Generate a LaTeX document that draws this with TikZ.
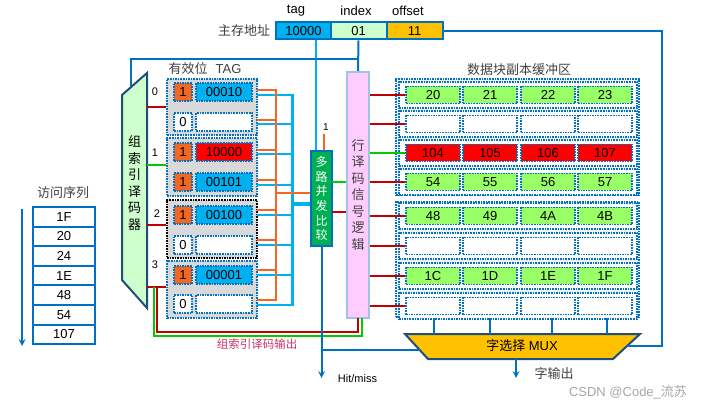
\documentclass[tikz,border=0pt]{standalone}
\usepackage{fontspec}
\setmainfont{Liberation Sans}
\newfontfamily\cjk{Noto Sans CJK SC}
\usepackage{tikz}
\usetikzlibrary{arrows}

\definecolor{dblue}{RGB}{0,112,192}
\definecolor{navy}{RGB}{31,78,121}
\definecolor{cyanb}{RGB}{0,176,240}
\definecolor{lgreen}{RGB}{204,255,204}
\definecolor{gold}{RGB}{255,192,0}
\definecolor{vorange}{RGB}{242,103,34}
\definecolor{dred}{RGB}{192,0,0}
\definecolor{lime}{RGB}{153,255,102}
\definecolor{cmpgreen}{RGB}{0,176,80}
\definecolor{pinkfill}{RGB}{255,204,255}
\definecolor{pinkline}{RGB}{157,195,230}
\definecolor{grayfill}{RGB}{217,217,217}
\definecolor{bufgray}{RGB}{242,242,242}
\definecolor{txtgray}{RGB}{64,64,64}
\definecolor{wire}{RGB}{0,204,0}
\definecolor{rosetext}{RGB}{204,51,102}

\tikzstyle{flow} = [line width=2pt,->,>=stealth]
\tikzstyle{dotbox} = [draw=dblue, line width=1.6pt, dash pattern=on 1.6pt off 1pt, inner sep=0pt]
\tikzstyle{addr} = [draw=dblue, line width=2pt, minimum width=56pt, minimum height=17pt, inner sep=0pt]
\tikzstyle{seqbox} = [draw=dblue, line width=2pt, minimum width=62pt, minimum height=19.6pt, inner sep=0pt]
\tikzstyle{vbit} = [dotbox, minimum width=18pt, minimum height=18pt]
\tikzstyle{tagbox} = [dotbox, minimum width=56pt, minimum height=18pt]
\tikzstyle{datacell} = [dotbox, minimum width=54pt, minimum height=17pt]
\tikzstyle{graytext} = [text=txtgray, font=\cjk\fontsize{13}{15}\selectfont]
\tikzstyle{vtext} = [align=center, inner sep=0pt, font=\cjk\fontsize{13}{16.5}\selectfont]
\tikzstyle{wirep} = [line width=2pt]

\begin{document}
\begin{tikzpicture}[x=1pt,y=-1pt,font=\fontsize{13}{15}\selectfont]
\useasboundingbox (0,0) rectangle (714,411);

% main memory address
\node[graytext] (addrlbl) at (244,31) {主存地址};
\node[addr, fill=cyanb] (tagb) at (303.5,31) {10000};
\node[addr, fill=lgreen] (idxb) at (358.5,31) {01};
\node[addr, fill=gold] (offb) at (414.5,31) {11};
\node (tagt) at (296,11) {tag};
\node (idxt) at (356,11) {index};
\node (offt) at (408,11) {offset};

% access sequence
\node[graytext] (seqlbl) at (63,193) {访问序列};
\foreach \i/\val in {1/1F,2/20,3/24,4/1E,5/48,6/54,7/107}{
	\node[seqbox] (s\i) at (64,197.2+19.6*\i) {\val};
}
\draw[flow, draw=dblue] (22,209) -- (22,346);

% set index decoder
\draw[draw=navy, line width=2pt, fill=lgreen] (122,95) -- (147,73) -- (147,308) -- (122,280) -- cycle;
\node[vtext] (idxdec) at (134.5,183) {组\\索\\引\\译\\码\\器};

% valid bits and tags
\node[graytext] (vlbl) at (205,69) {有效位\hspace{8pt}\fontspec{Liberation Sans}TAG};
\node[dotbox, fill=grayfill, minimum width=90pt, minimum height=56pt] (grp0) at (212,107) {};
\node[dotbox, fill=grayfill, minimum width=90pt, minimum height=58pt] (grp1) at (212,167) {};
\node[dotbox, draw=black, fill=grayfill, minimum width=90pt, minimum height=58pt] (grp2) at (212,229) {};
\node[dotbox, fill=grayfill, minimum width=90pt, minimum height=57pt] (grp3) at (212,289.5) {};
\foreach \i/\y/\v/\vc/\t/\tc in {
	0/92/1/vorange/00010/cyanb,
	1/122/0/white//white,
	2/152/1/vorange/10000/red,
	3/182/1/vorange/00101/cyanb,
	4/215/1/vorange/00100/cyanb,
	5/245/0/white//white,
	6/275/1/vorange/00001/cyanb,
	7/304/0/white//white}{
	\node[vbit, fill=\vc] (v\i) at (183,\y) {\v};
	\node[tagbox, fill=\tc] (t\i) at (224,\y) {\t};
}

% decoder outputs
\foreach \g/\y/\c in {0/107/dred,1/165/wire,2/225/dred,3/287/dred}{
	\draw[wirep, draw=\c] (147,\y) coordinate (d\g) -- (d\g -| grp\g.west);
}
\node[font=\fontsize{11}{13}\selectfont] at (155,92) {0};
\node[font=\fontsize{11}{13}\selectfont] at (155,153) {1};
\node[font=\fontsize{11}{13}\selectfont] at (157,214) {2};
\node[font=\fontsize{11}{13}\selectfont] at (155,265) {3};

% compare unit
\node[draw=dblue, line width=2pt, fill=cmpgreen, minimum width=21pt, minimum height=95pt, text=white,
	align=center, inner sep=0pt, font=\cjk\fontsize{12}{14.7}\selectfont] (cmp) at (321.5,198.5) {多\\路\\并\\发\\比\\较};

% tag/valid wiring to compare unit
\foreach \yo/\yc in {90/95,120/124,150/154,180/185,210/215,240/245,270/275,300/305}{
	\draw[wirep, draw=vorange] (257,\yo) -- (276,\yo);
	\draw[wirep, draw=cyanb] (257,\yc) -- (292,\yc);
}
\draw[wirep, draw=vorange] (276,89) -- (276,301);
\draw[line width=3pt, draw=cyanb] (292,94) -- (292,306);
\draw[wirep, draw=vorange] (276,193) coordinate (oj) -- (oj -| cmp.west);
\draw[line width=4pt, draw=cyanb] (292,204) coordinate (cj) -- (cj -| cmp.west);
\coordinate (tagdrop) at ([xshift=12.5pt]tagb.south);
\draw[wirep, draw=cyanb] (tagdrop) -- (tagdrop |- cmp.north);
\draw[wirep, draw=vorange] (324,134) coordinate (one) -- (one |- cmp.north);
\node[font=\fontsize{10}{12}\selectfont] (onelbl) at (326,127) {1};

% row decoder
\node[draw=pinkline, line width=2pt, fill=pinkfill, minimum width=22pt, minimum height=246pt, inner sep=0pt] (rowdec) at (358,195) {};
\node[vtext, text=txtgray] (rowtxt) at (358,195) {行\\译\\码\\信\\号\\逻\\辑};
\draw[wirep, draw=wire] (332,182) coordinate (cg) -- (cg -| rowdec.west);
\draw[wirep, draw=dred] (332,212) coordinate (cr) -- (cr -| rowdec.west);

% index address lines
\draw[wirep, draw=dblue] (idxb.south) -- (rowdec.north);
\draw[wirep, draw=dblue] (358,59) -- (131,59) -- (131,87);

% set decoder output to row decoder
\draw[wirep, draw=dred] (157,287) -- (157,332) -- (358,332) -- (358,318);
\draw[wirep, draw=wire] (154,287) -- (154,336) -- (362,336) -- (362,318);
\node[text=rosetext, font=\cjk\fontsize{11.5}{13}\selectfont] (declbl) at (257,344) {组索引译码输出};

% data block buffer
\node[graytext] (buflbl) at (519,70) {数据块副本缓冲区};
\node[dotbox, fill=bufgray, minimum width=243pt, minimum height=116pt] (buf1) at (517.5,137) {};
\node[dotbox, fill=bufgray, minimum width=243pt, minimum height=115pt] (buf2) at (517.5,259.5) {};
\foreach \r/\y/\c/\a/\b/\cc/\d/\lc in {
	0/95/lime/20/21/22/23/dred,
	1/124/white/{}/{}/{}/{}/dred,
	2/153/red/104/105/106/107/wire,
	3/182/lime/54/55/56/57/dred,
	4/216/lime/48/49/4A/4B/dred,
	5/246/white/{}/{}/{}/{}/dred,
	6/276/lime/1C/1D/1E/1F/dred,
	7/306/white/{}/{}/{}/{}/dred}{
	\node[dotbox, fill=white, minimum width=238pt, minimum height=26pt] (row\r) at (518,\y) {};
	\foreach \k/\x/\val in {1/433/\a,2/490/\b,3/548/\cc,4/605/\d}{
		\node[datacell, fill=\c] (c\r-\k) at (\x,\y) {\val};
	}
	\draw[wirep, draw=\lc] (c\r-1.west -| rowdec.east) -- (c\r-1.west);
}

% word select MUX
\draw[draw=navy, line width=2pt, fill=gold] (405,334) -- (640,334) -- (613,359) -- (428,359) -- cycle;
\node (mux) at (522,346) {{\cjk 字选择} MUX};
\foreach \k/\x in {1/434,2/490,3/552,4/607}{
	\draw[wirep, draw=dblue] (\x,318) -- (\x,334);
}
\draw[wirep, draw=dblue] (offb.east) -- (662,31) -- (662,346) -- (627,346);
\draw[flow, draw=dblue] (516,359) -- (516,378);
\node[graytext] (outlbl) at (554,374) {字输出};

% hit / miss
\draw[flow, draw=dblue] (cmp.south) -- (321.5,378);
\draw[wirep, draw=dblue] (321.5,350) -- (420,350);
\node[font=\fontsize{11}{13}\selectfont] (hitlbl) at (357.5,379) {Hit/miss};

\node[text=black!35, font=\fontsize{13}{15}\selectfont] (mark) at (628,392) {CSDN @Code\_{\cjk 流苏}};
\end{tikzpicture}
\end{document}
